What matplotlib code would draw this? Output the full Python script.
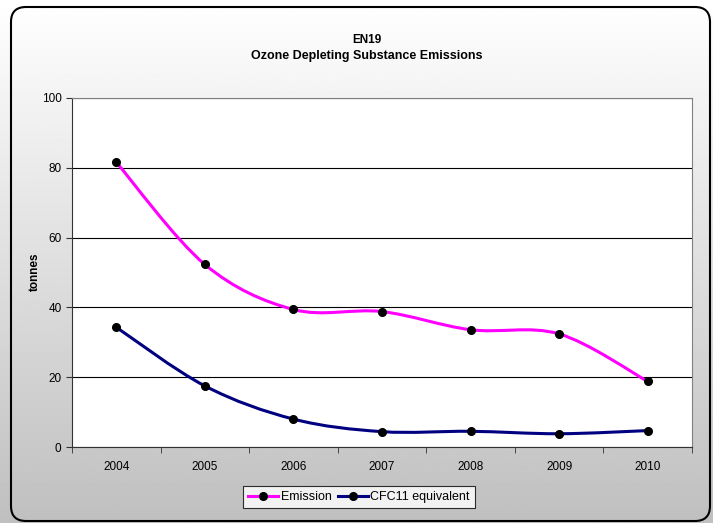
import numpy as np
import matplotlib.pyplot as plt
from matplotlib.path import Path
from matplotlib.patches import PathPatch, FancyBboxPatch
from matplotlib.lines import Line2D

plt.rcParams['font.family'] = ['Liberation Sans', 'DejaVu Sans']

years = ['2004', '2005', '2006', '2007', '2008', '2009', '2010']
emission = [81.6, 52.3, 39.4, 38.8, 33.6, 32.4, 18.8]
cfc11 = [34.3, 17.5, 8.0, 4.4, 4.5, 3.8, 4.7]
series_names = ['Emission', 'CFC11 equivalent']
series_colors = ['#ff00ff', '#000080']
y_ticks = [0, 20, 40, 60, 80, 100]


def smooth_path(x, y, t=1/6):
    # Excel-like smoothed line as cubic bezier segments
    pts = np.column_stack([x, y]).astype(float)
    verts = [pts[0]]
    codes = [Path.MOVETO]
    n = len(pts)
    for i in range(n - 1):
        p0 = pts[i - 1] if i > 0 else pts[i]
        p1 = pts[i]
        p2 = pts[i + 1]
        p3 = pts[i + 2] if i + 2 < n else pts[i + 1]
        c1 = p1 + (p2 - p0) * t
        c2 = p2 - (p3 - p1) * t
        verts += [c1, c2, p2]
        codes += [Path.CURVE4] * 3
    return Path(verts, codes)


W, H = 713, 523
fig = plt.figure(figsize=(W / 100, H / 100), dpi=100)

# gradient background
bg = fig.add_axes([0, 0, 1, 1], zorder=-10)
grad = np.linspace(1.0, 0.75, 256).reshape(-1, 1)
bg.imshow(grad, cmap='gray', vmin=0, vmax=1, aspect='auto', extent=[0, W, 0, H])
bg.set_xlim(0, W)
bg.set_ylim(0, H)
bg.axis('off')
bg.add_patch(FancyBboxPatch((11, 2), 699, 514,
                            boxstyle='round,pad=0,rounding_size=15',
                            fill=False, edgecolor='black', linewidth=1.5))

ax = fig.add_axes([72 / W, 1 - 447 / H, 620 / W, 349 / H])
ax.set_facecolor('white')
x = np.arange(len(years))
for vals, color, name in zip([emission, cfc11], series_colors, series_names):
    ax.add_patch(PathPatch(smooth_path(x, vals), facecolor='none',
                           edgecolor=color, linewidth=2.2, zorder=3))
    ax.plot(x, vals, linestyle='none', marker='o', markersize=5.5,
            color='black', zorder=4)

ax.set_xlim(-0.5, len(years) - 0.5)
ax.set_ylim(0, 100)
ax.set_yticks(y_ticks)
ax.set_xticks(x)
ax.set_xticklabels(years)
ax.set_xticks(np.arange(-0.5, len(years)), minor=True)
ax.tick_params(axis='x', which='major', length=0, pad=10, labelsize=8.5)
ax.tick_params(axis='x', which='minor', length=4, direction='out', color='#333333')
ax.tick_params(axis='y', length=4, direction='out', labelsize=8.5, color='#333333')
ax.yaxis.grid(True, color='black', linewidth=0.8)
ax.set_axisbelow(True)
for s in ['top', 'right']:
    ax.spines[s].set_color('#808080')
for s in ['left', 'bottom']:
    ax.spines[s].set_color('#333333')

fig.text(35 / W, 1 - 272 / H, 'tonnes', rotation=90, ha='center', va='center',
         fontsize=8.5, fontweight='bold')
fig.text(0.515, 1 - 40 / H, 'EN19', ha='center', va='center',
         fontsize=8.5, fontweight='bold')
fig.text(0.515, 1 - 56 / H, 'Ozone Depleting Substance Emissions',
         ha='center', va='center', fontsize=9, fontweight='bold')

handles = [Line2D([], [], color=c, linewidth=2.2, marker='o', markersize=5.5,
                  markerfacecolor='black', markeredgecolor='black')
           for c in series_colors]
leg = fig.legend(handles, series_names, loc='center', ncol=2,
                 bbox_to_anchor=(359 / W, 1 - 497 / H), fontsize=9,
                 frameon=True, fancybox=False, edgecolor='black',
                 handlelength=2.4, handletextpad=0.2, columnspacing=0.5,
                 borderpad=0.4)
leg.get_frame().set_linewidth(0.8)

fig.savefig('out.png', dpi=100)
